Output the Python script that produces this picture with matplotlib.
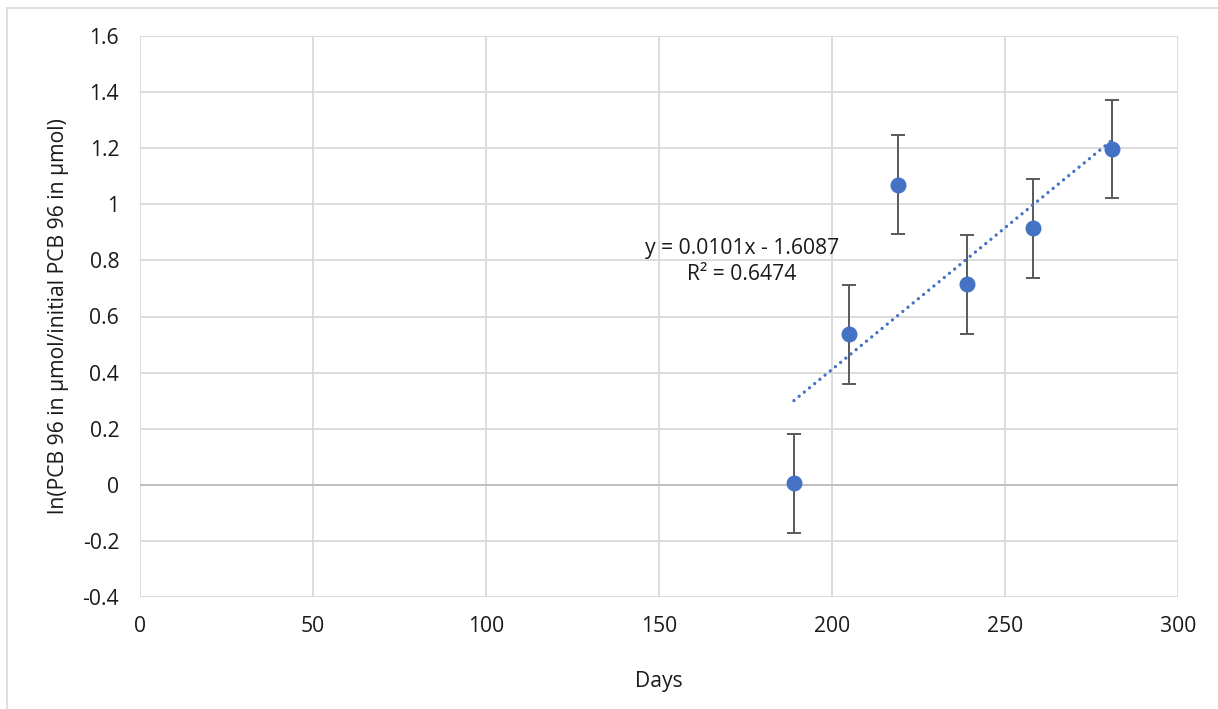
import matplotlib.pyplot as plt
from matplotlib.lines import Line2D
import numpy as np

# measured PCB 96 ratios (log) vs. sampling day
days = [189, 205, 219, 239, 258, 281]
ln_ratio = [0.005, 0.537, 1.07, 0.715, 0.915, 1.197]
err = [0.176, 0.176, 0.176, 0.176, 0.176, 0.176]

# linear trendline from the fitted equation
slope = 0.0101
intercept = -1.6087
r2 = 0.6474

x_ticks = [0, 50, 100, 150, 200, 250, 300]
y_ticks = [-0.4, -0.2, 0, 0.2, 0.4, 0.6, 0.8, 1.0, 1.2, 1.4, 1.6]
y_labels = ['-0.4', '-0.2', '0', '0.2', '0.4', '0.6', '0.8', '1', '1.2', '1.4', '1.6']

plt.rcParams['font.family'] = ['Open Sans', 'DejaVu Sans']
FS = 15.2

fig = plt.figure(figsize=(12.18, 7.09), dpi=100)
ax = fig.add_axes([140 / 1218, 1 - 597 / 709, 1038 / 1218, 561 / 709])

grid_c = '#d9d9d9'
for xv in x_ticks:
    ax.axvline(xv, color=grid_c, lw=1.3, zorder=1)
for yv in y_ticks:
    ax.axhline(yv, color=grid_c, lw=1.3, zorder=1)
ax.axhline(0, color='#bfbfbf', lw=1.4, zorder=1)

ax.errorbar(days, ln_ratio, yerr=err, fmt='none', ecolor='#595959',
            elinewidth=1.4, capsize=4.8, capthick=1.4, zorder=2)

xt = np.array([min(days), max(days)])
ax.plot(xt, slope * xt + intercept, color='#4472c4', lw=2.4,
        linestyle=(0, (0.01, 2.0)), dash_capstyle='round', zorder=3)

ax.plot(days, ln_ratio, 'o', color='#4472c4', markersize=10.5, zorder=4)

ax.text(174, 0.795, f'y = {slope}x - {abs(intercept)}\nR² = {r2}',
        ha='center', va='center', fontsize=FS, color='#1a1a1a',
        linespacing=1.3, zorder=5)

ax.set_xlim(0, 300)
ax.set_ylim(-0.4, 1.6)
ax.set_xticks(x_ticks)
ax.set_yticks(y_ticks)
ax.set_yticklabels(y_labels)
ax.tick_params(length=0, labelsize=FS, colors='#1a1a1a')
ax.tick_params(axis='x', pad=14)
ax.tick_params(axis='y', pad=15)
for s in ax.spines.values():
    s.set_visible(False)

ax.set_xlabel('Days', fontsize=FS, color='#1a1a1a', labelpad=24)
ax.set_ylabel('ln(PCB 96 in µmol/initial PCB 96 in µmol)', fontsize=FS,
              color='#1a1a1a', labelpad=10)

# chart area frame
fig.add_artist(Line2D([7 / 1218, 7 / 1218], [0, 1 - 8 / 709],
                      transform=fig.transFigure, color='#d9d9d9', lw=1.2))
fig.add_artist(Line2D([7 / 1218, 1], [1 - 8 / 709, 1 - 8 / 709],
                      transform=fig.transFigure, color='#d9d9d9', lw=1.2))

fig.savefig('out.png', dpi=100)
